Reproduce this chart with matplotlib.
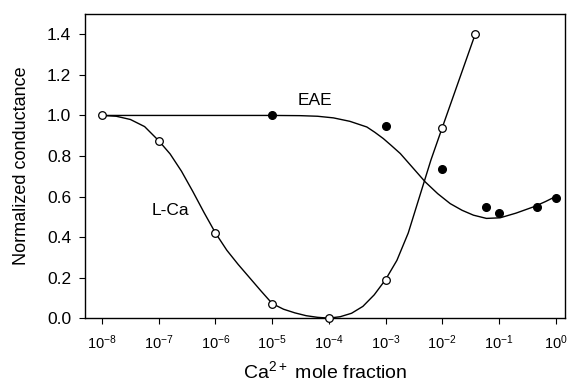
import matplotlib
matplotlib.use("Agg")
import matplotlib.pyplot as plt
import numpy as np

plt.rcParams['font.family'] = ['Liberation Sans', 'DejaVu Sans']
plt.rcParams['mathtext.default'] = 'regular'

# measured points (open circles: L-Ca, filled circles: EAE)
lca_x = [1e-8, 1e-7, 1e-6, 1e-5, 1e-4, 1e-3, 1e-2, 3.8e-2]
lca_y = [1.0, 0.875, 0.42, 0.07, 0.0, 0.19, 0.94, 1.40]

eae_x = [1e-5, 1e-3, 1e-2, 5.9e-2, 1e-1, 4.7e-1, 1.0]
eae_y = [1.0, 0.95, 0.735, 0.55, 0.52, 0.55, 0.595]

# fitted curves (log10 x, y)
lca_fit_logx = [-8.0, -7.75, -7.5, -7.25, -7.0, -6.8, -6.6, -6.4, -6.2, -6.0, -5.8,
                -5.6, -5.4, -5.2, -5.0, -4.8, -4.6, -4.4, -4.2, -4.0, -3.8, -3.6,
                -3.4, -3.2, -3.0, -2.8, -2.6, -2.4, -2.2, -2.0, -1.42]
lca_fit_y = [1.0, 0.996, 0.98, 0.945, 0.875, 0.81, 0.725, 0.625, 0.52, 0.42, 0.335,
             0.265, 0.2, 0.135, 0.072, 0.044, 0.026, 0.012, 0.004, 0.0, 0.007, 0.024,
             0.058, 0.115, 0.19, 0.285, 0.42, 0.60, 0.78, 0.94, 1.40]

eae_fit_logx = [-8.0, -6.0, -5.0, -4.51, -4.2, -3.92, -3.63, -3.33, -3.19, -3.04,
                -2.9, -2.74, -2.52, -2.30, -2.08, -1.86, -1.65, -1.45, -1.22, -0.98,
                -0.7, -0.39, -0.18, 0.0]
eae_fit_y = [1.0, 1.0, 1.0, 0.999, 0.996, 0.988, 0.971, 0.943, 0.917, 0.886,
             0.852, 0.812, 0.742, 0.672, 0.614, 0.565, 0.532, 0.508, 0.492, 0.495,
             0.518, 0.549, 0.575, 0.60]

x_exponents = [-8, -7, -6, -5, -4, -3, -2, -1, 0]
y_ticks = [0.0, 0.2, 0.4, 0.6, 0.8, 1.0, 1.2, 1.4]

fig = plt.figure(figsize=(5.71, 3.81), dpi=100)
ax = fig.add_axes([0.149, 0.165, 0.840, 0.798])

ax.plot(10.0 ** np.array(lca_fit_logx), lca_fit_y, color='black', linewidth=1.0,
        solid_joinstyle='round', zorder=2)
ax.plot(10.0 ** np.array(eae_fit_logx), eae_fit_y, color='black', linewidth=1.0,
        solid_joinstyle='round', zorder=2)

ax.plot(lca_x, lca_y, linestyle='none', marker='o', markersize=5.5,
        markerfacecolor='white', markeredgecolor='black', markeredgewidth=0.9,
        clip_on=False, zorder=3)
ax.plot(eae_x, eae_y, linestyle='none', marker='o', markersize=5.5,
        markerfacecolor='black', markeredgecolor='black', clip_on=False, zorder=3)

ax.text(10 ** -4.24, 1.074, "EAE", fontsize=12.5, ha='center', va='center')
ax.text(10 ** -6.8, 0.532, "L-Ca", fontsize=12.5, ha='center', va='center')

ax.set_xscale('log')
ax.set_xlim(10 ** -8.3, 10 ** 0.16)
ax.set_ylim(0, 1.5)
ax.set_xticks([10.0 ** e for e in x_exponents])
ax.set_xticklabels([r'$10^{%d}$' % e for e in x_exponents])
ax.xaxis.set_minor_locator(matplotlib.ticker.NullLocator())
ax.set_yticks(y_ticks)
ax.set_yticklabels(['%.1f' % v for v in y_ticks])

ax.tick_params(direction='out', length=4, width=0.8, pad=5)
ax.tick_params(axis='x', labelsize=10.5, pad=7)
ax.tick_params(axis='y', labelsize=12.5, pad=6)
for sp in ax.spines.values():
    sp.set_linewidth(1.0)

ax.set_xlabel(r'Ca$^{2+}$ mole fraction', fontsize=14, labelpad=6)
ax.set_ylabel('Normalized conductance', fontsize=13, labelpad=12)

fig.savefig('out.png', dpi=100)
